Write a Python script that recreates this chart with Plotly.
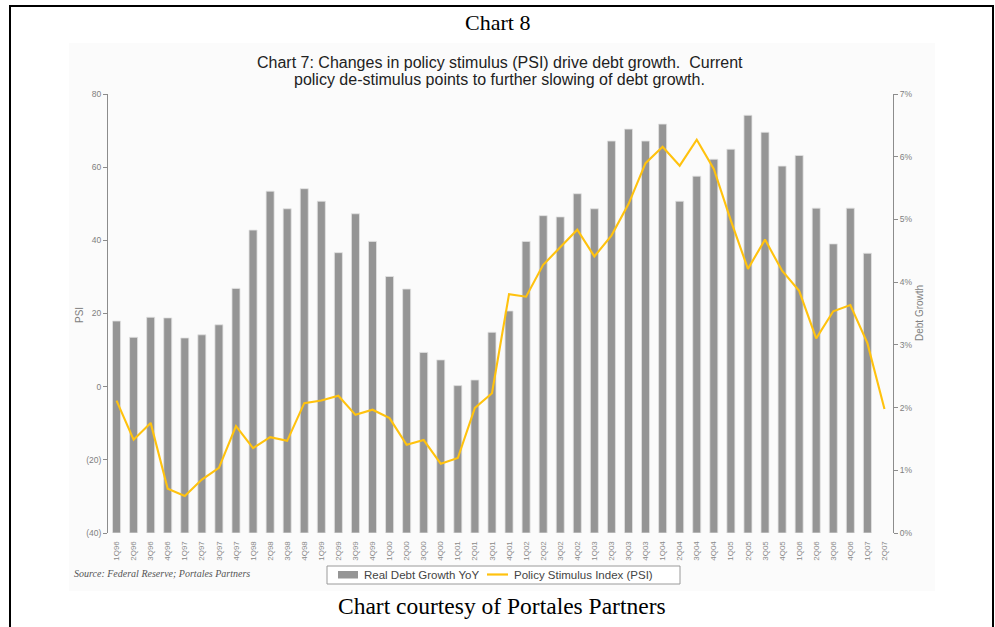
import plotly.graph_objects as go

W, H = 995, 627

# Quarter labels 1Q96 .. 2Q07
quarters = ["1Q96", "2Q96", "3Q96", "4Q96", "1Q97", "2Q97", "3Q97", "4Q97",
            "1Q98", "2Q98", "3Q98", "4Q98", "1Q99", "2Q99", "3Q99", "4Q99",
            "1Q00", "2Q00", "3Q00", "4Q00", "1Q01", "2Q01", "3Q01", "4Q01",
            "1Q02", "2Q02", "3Q02", "4Q02", "1Q03", "2Q03", "3Q03", "4Q03",
            "1Q04", "2Q04", "3Q04", "4Q04", "1Q05", "2Q05", "3Q05", "4Q05",
            "1Q06", "2Q06", "3Q06", "4Q06", "1Q07", "2Q07"]

# Real debt growth, year over year (fraction), 1Q96 .. 1Q07
debt_growth = [0.0338, 0.0312, 0.0344, 0.0343, 0.0311, 0.0316, 0.0332, 0.0390,
               0.0483, 0.0545, 0.0517, 0.0549, 0.0529, 0.0447, 0.0509, 0.0465,
               0.0409, 0.0389, 0.0288, 0.0276, 0.0235, 0.0244, 0.0320, 0.0354,
               0.0465, 0.0506, 0.0504, 0.0541, 0.0517, 0.0625, 0.0644, 0.0625,
               0.0652, 0.0529, 0.0569, 0.0596, 0.0612, 0.0666, 0.0639, 0.0585,
               0.0602, 0.0518, 0.0461, 0.0518, 0.0446]

# Policy Stimulus Index, 1Q96 .. 2Q07
psi = [-3.8, -14.5, -9.9, -27.9, -29.9, -25.4, -22.2, -10.8,
       -16.8, -13.8, -14.8, -4.5, -3.8, -2.5, -7.7, -6.3,
       -8.6, -15.9, -14.6, -21.1, -19.5, -5.8, -1.8, 25.3,
       24.6, 33.3, 38.1, 42.9, 35.6, 41.3, 49.9, 61.1,
       65.6, 60.4, 67.5, 59.5, 45.4, 32.2, 40.2, 31.7,
       26.2, 13.2, 20.6, 22.3, 11.9, -6.1]

psi_ticks = [-40, -20, 0, 20, 40, 60, 80]
psi_tick_text = ["(40)", "(20)", "0", "20", "40", "60", "80"]
growth_ticks = [0, 0.01, 0.02, 0.03, 0.04, 0.05, 0.06, 0.07]
growth_tick_text = ["0%", "1%", "2%", "3%", "4%", "5%", "6%", "7%"]

title_text = "Chart 8"
subtitle_lines = ["Chart 7: Changes in policy stimulus (PSI) drive debt growth.  Current",
                  "policy de-stimulus points to further slowing of debt growth."]
source_text = "Source: Federal Reserve; Portales Partners"
credit_text = "Chart courtesy of Portales Partners"
bar_name = "Real Debt Growth YoY"
line_name = "Policy Stimulus Index (PSI)"

BAR_COLOR = "#959595"
LINE_COLOR = "#FFC20E"
AXIS_GRAY = "#8c8c8c"
SANS = "Liberation Sans, Arial"
SERIF = "Liberation Serif, Times New Roman"
TICK_FONT = dict(family=SANS, size=8.5, color="#808080")


def px_x(v):
    return v / W


def px_y(v):
    return 1 - v / H


fig = go.Figure()

fig.add_trace(go.Bar(
    x=quarters[:len(debt_growth)], y=debt_growth,
    name=bar_name,
    marker=dict(color=BAR_COLOR, line=dict(color="#e2e2e2", width=0.8)),
    yaxis="y",
))

fig.add_trace(go.Scatter(
    x=quarters, y=psi,
    name=line_name,
    mode="lines",
    line=dict(color=LINE_COLOR, width=2.1),
    yaxis="y2",
))

annotations = [
    dict(text=title_text, x=px_x(497), y=px_y(22),
         font=dict(family=SERIF, size=22, color="black")),
    dict(text=subtitle_lines[0], x=px_x(500), y=px_y(63),
         font=dict(family=SANS, size=16, color="#222222")),
    dict(text=subtitle_lines[1], x=px_x(500), y=px_y(80),
         font=dict(family=SANS, size=16, color="#222222")),
    dict(text="PSI", x=px_x(79), y=px_y(315), textangle=-90,
         font=dict(family=SANS, size=10, color="#808080")),
    dict(text="Debt Growth", x=px_x(919), y=px_y(313), textangle=-90,
         font=dict(family=SANS, size=10, color="#808080")),
    dict(text="<i>" + source_text + "</i>", x=px_x(72), y=px_y(573), xanchor="left",
         font=dict(family=SERIF, size=10, color="#555555")),
    dict(text=credit_text, x=px_x(502), y=px_y(606),
         font=dict(family=SERIF, size=23.5, color="black")),
    # legend labels
    dict(text=bar_name, x=px_x(362), y=px_y(575), xanchor="left",
         font=dict(family=SANS, size=11.5, color="#444444")),
    dict(text=line_name, x=px_x(512), y=px_y(575), xanchor="left",
         font=dict(family=SANS, size=11.5, color="#444444")),
]
for a in annotations:
    a.setdefault("xref", "paper")
    a.setdefault("yref", "paper")
    a.setdefault("xanchor", "center")
    a.setdefault("yanchor", "middle")
    a["showarrow"] = False

shapes = [
    # light panel behind the chart
    dict(type="rect", x0=px_x(69), x1=px_x(935), y0=px_y(591), y1=px_y(43),
         fillcolor="#fbfbfb", line=dict(width=0), layer="below"),
    # outer frame
    dict(type="rect", x0=px_x(10), x1=px_x(993), y0=px_y(640), y1=px_y(6),
         fillcolor="rgba(0,0,0,0)", line=dict(color="black", width=2)),
    # legend box and keys
    dict(type="rect", x0=px_x(327), x1=px_x(680), y0=px_y(584), y1=px_y(566),
         fillcolor="white", line=dict(color="#9a9a9a", width=1)),
    dict(type="rect", x0=px_x(338), x1=px_x(358), y0=px_y(578.5), y1=px_y(571),
         fillcolor=BAR_COLOR, line=dict(width=0)),
    dict(type="line", x0=px_x(487), x1=px_x(508), y0=px_y(574.5), y1=px_y(574.5),
         line=dict(color=LINE_COLOR, width=2.2)),
]
for s in shapes:
    s["xref"] = "paper"
    s["yref"] = "paper"

fig.update_layout(
    width=W, height=H,
    margin=dict(l=0, r=0, t=0, b=0, pad=0, autoexpand=False),
    paper_bgcolor="white",
    plot_bgcolor="rgba(0,0,0,0)",
    bargap=0.53,
    showlegend=False,
    xaxis=dict(
        domain=[px_x(108), px_x(893)],
        type="category",
        categoryorder="array", categoryarray=quarters,
        range=[-0.5, len(quarters) - 0.5],
        tickangle=-90,
        tickfont=dict(family=SANS, size=8, color="#8a8a8a"),
        showline=False, showgrid=False,
        ticks="outside", ticklen=4, tickcolor="rgba(0,0,0,0)",
        automargin=False,
        anchor="y",
    ),
    yaxis=dict(
        domain=[px_y(533), px_y(94)],
        side="right",
        range=[0, 0.07],
        tickvals=growth_ticks, ticktext=growth_tick_text,
        showgrid=False, zeroline=False,
        showline=True, linecolor=AXIS_GRAY, linewidth=1,
        ticks="outside", ticklen=4, tickcolor=AXIS_GRAY,
        tickfont=TICK_FONT,
        automargin=False,
        anchor="x",
    ),
    yaxis2=dict(
        overlaying="y",
        side="left",
        range=[-40, 80],
        tickvals=psi_ticks, ticktext=psi_tick_text,
        showgrid=False, zeroline=False,
        showline=True, linecolor=AXIS_GRAY, linewidth=1,
        ticks="outside", ticklen=4, tickcolor=AXIS_GRAY,
        tickfont=TICK_FONT,
        automargin=False,
        anchor="x",
    ),
    shapes=shapes,
    annotations=annotations,
)

fig.write_html("out.html")
